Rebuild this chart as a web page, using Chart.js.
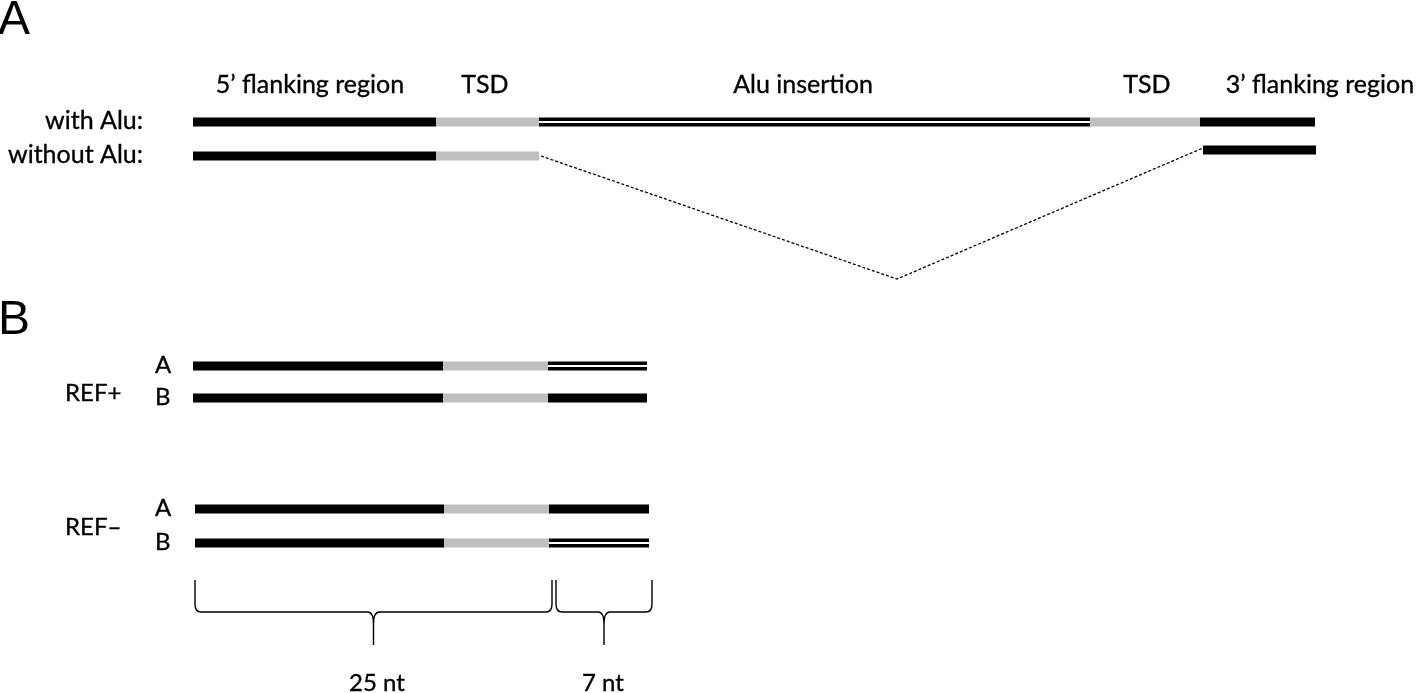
<!DOCTYPE html>
<html>
<head>
<meta charset="utf-8">
<script src="https://cdn.jsdelivr.net/npm/chart.js@4.4.1/dist/chart.umd.min.js"></script>
<style>
html,body{margin:0;padding:0;background:#fff;}
#wrap{position:relative;width:1417px;height:693px;}
</style>
</head>
<body>
<div id="wrap"><canvas id="c"></canvas></div>
<script>
// ---------- Panel A data ----------
const panelLetters = ['A', 'B'];
const panelLetterY = [21, 321];
const headerLabelsA = ['5’ flanking region', 'TSD', 'Alu insertion', 'TSD', '3’ flanking region'];
const headerXA = [310, 485, 803, 1147, 1320];
const headerYA = 85;
const rowLabelsA = ['with Alu:', 'without Alu:'];
const rowYA = [122, 156];
const withAluEdges = [193, 436, 539, 1090, 1200, 1315];
const withAluKinds = ['flank', 'tsd', 'alu', 'tsd', 'flank'];
const withoutAluLeftEdges = [193, 436, 539];
const withoutAluLeftKinds = ['flank', 'tsd'];
const withoutAluRightEdges = [1203, 1316];
const withoutAluRightY = 150;
const gapPathX = [541, 897, 1203];
const gapPathY = [156, 279, 148];

// ---------- Panel B data ----------
const groupLabelsB = ['REF+', 'REF–'];
const groupYB = [393, 527];
const alleleLabelsB = ['A', 'B', 'A', 'B'];
const alleleYB = [366, 398, 509, 543];
const alleleEdgesB = [[193, 443, 548, 647], [193, 443, 548, 647], [195, 444, 549, 649], [195, 444, 549, 649]];
const alleleKindsB = [['flank', 'tsd', 'alu'], ['flank', 'tsd', 'flank'], ['flank', 'tsd', 'flank'], ['flank', 'tsd', 'alu']];
const braceStarts = [195, 556];
const braceEnds = [552, 652];
const braceLabels = ['25 nt', '7 nt'];
const braceLabelX = [377, 603];

// ---------- styles ----------
const BLACK = '#000000';
const GRAY = '#bfbfbf';
const BAR_W = 9;
const FONT = 'Lato, "Open Sans", sans-serif';

const datasets = [];
function addSegment(x0, x1, y, kind) {
  const pts = [{x: x0, y: y}, {x: x1, y: y}];
  datasets.push({data: pts, borderColor: kind === 'tsd' ? GRAY : BLACK, borderWidth: BAR_W, pointRadius: 0, borderCapStyle: 'butt', order: 1});
  if (kind === 'alu') {
    datasets.push({data: pts, borderColor: '#ffffff', borderWidth: 2.2, pointRadius: 0, borderCapStyle: 'butt', order: 0});
  }
}
function addRow(edges, kinds, y) {
  for (let i = 0; i < kinds.length; i++) addSegment(edges[i], edges[i + 1], y, kinds[i]);
}
addRow(withAluEdges, withAluKinds, rowYA[0]);
addRow(withoutAluLeftEdges, withoutAluLeftKinds, rowYA[1]);
addSegment(withoutAluRightEdges[0], withoutAluRightEdges[1], withoutAluRightY, 'flank');
datasets.push({
  data: gapPathX.map((x, i) => ({x: x, y: gapPathY[i]})),
  borderColor: BLACK, borderWidth: 1.3, borderDash: [3, 2], pointRadius: 0, tension: 0, order: 1
});
alleleYB.forEach((y, i) => addRow(alleleEdgesB[i], alleleKindsB[i], y));

const textPlugin = {
  id: 'texts',
  afterDatasetsDraw(chart) {
    const ctx = chart.ctx;
    const xs = chart.scales.x, ys = chart.scales.y;
    const X = v => xs.getPixelForValue(v), Y = v => ys.getPixelForValue(v);
    const put = (t, x, y) => { ctx.fillText(t, x, y); ctx.strokeText(t, x, y); };
    ctx.save();
    ctx.fillStyle = BLACK;
    ctx.strokeStyle = BLACK;
    ctx.lineWidth = 0.35;
    ctx.textBaseline = 'middle';
    // panel letters
    ctx.font = '48px "Liberation Sans", Arial, sans-serif';
    ctx.textAlign = 'left';
    panelLetters.forEach((t, i) => ctx.fillText(t, X(-2), Y(panelLetterY[i])));
    ctx.font = '25px ' + FONT;
    ctx.textAlign = 'center';
    headerLabelsA.forEach((t, i) => put(t, X(headerXA[i]), Y(headerYA)));
    ctx.textAlign = 'right';
    rowLabelsA.forEach((t, i) => put(t, X(143), Y(rowYA[i] - 1)));
    ctx.font = '24px ' + FONT;
    ctx.textAlign = 'left';
    groupLabelsB.forEach((t, i) => put(t, X(65), Y(groupYB[i])));
    alleleLabelsB.forEach((t, i) => put(t, X(155), Y(alleleYB[i] - 1)));
    // braces
    ctx.lineWidth = 1.4;
    const top = 580, mid = 612, tip = 645;
    braceStarts.forEach((x0, i) => {
      const x1 = braceEnds[i];
      const xc = (x0 + x1) / 2;
      ctx.beginPath();
      ctx.moveTo(X(x0), Y(top));
      ctx.lineTo(X(x0), Y(mid - 8));
      ctx.quadraticCurveTo(X(x0), Y(mid), X(x0 + 6), Y(mid));
      ctx.lineTo(X(xc - 6), Y(mid));
      ctx.quadraticCurveTo(X(xc), Y(mid), X(xc), Y(mid + 12));
      ctx.lineTo(X(xc), Y(tip));
      ctx.moveTo(X(x1), Y(top));
      ctx.lineTo(X(x1), Y(mid - 8));
      ctx.quadraticCurveTo(X(x1), Y(mid), X(x1 - 6), Y(mid));
      ctx.lineTo(X(xc + 6), Y(mid));
      ctx.quadraticCurveTo(X(xc), Y(mid), X(xc), Y(mid + 12));
      ctx.stroke();
    });
    ctx.lineWidth = 0.35;
    ctx.textAlign = 'center';
    braceLabels.forEach((t, i) => put(t, X(braceLabelX[i]), Y(683)));
    ctx.restore();
  }
};

new Chart(document.getElementById('c'), {
  type: 'line',
  data: {datasets: datasets},
  options: {
    responsive: true,
    maintainAspectRatio: false,
    animation: false,
    layout: {padding: 0},
    plugins: {legend: {display: false}, tooltip: {enabled: false}, title: {display: false}},
    scales: {
      x: {type: 'linear', min: 0, max: 1417, display: false},
      y: {type: 'linear', min: 0, max: 693, reverse: true, display: false}
    }
  },
  plugins: [textPlugin]
});
</script>
</body>
</html>
